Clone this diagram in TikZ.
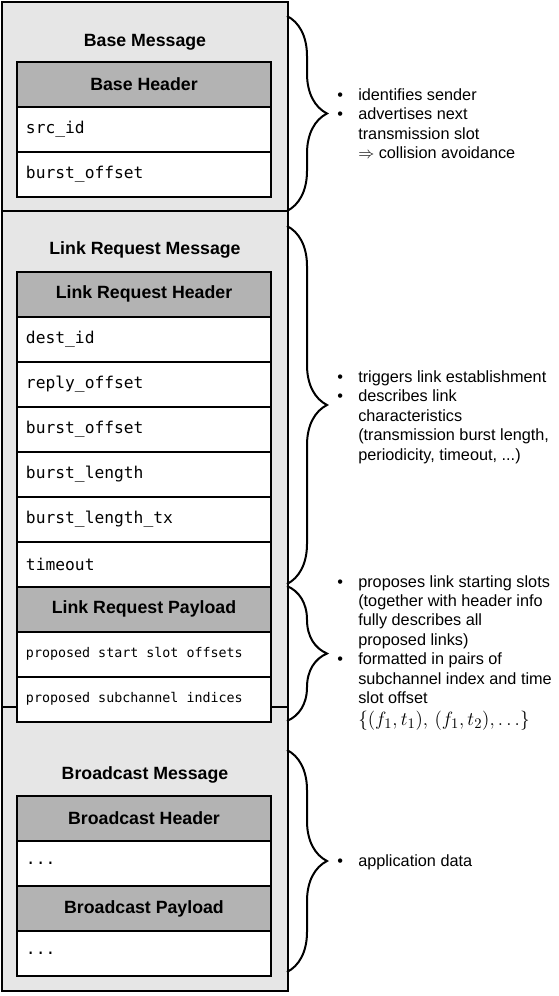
\documentclass[tikz,border=0pt]{standalone}
\usepackage{fontspec}
\setmainfont{Liberation Sans}
\setmonofont{DejaVu Sans Mono}
\usetikzlibrary{positioning,decorations.pathreplacing}

\definecolor{msgfill}{HTML}{E6E6E6}
\definecolor{hdrfill}{HTML}{B3B3B3}

\newcommand{\bul}{\makebox[17.25pt][l]{\hspace{1.5pt}\textbullet}}
\newcommand{\ind}{\hspace*{17.25pt}}
\newcommand{\msp}{\hphantom{x}}% one mono cell
\newcommand{\fieldfont}{\fontsize{12.2}{14}\ttfamily}
\newcommand{\smallfieldfont}{\fontsize{10}{12}\ttfamily}

\tikzset{
  msgbox/.style={draw,line width=1.5pt,fill=msgfill,minimum width=214.5pt,inner sep=0pt,outer sep=0pt},
  msgtitle/.style={font=\fontsize{13.3}{16}\selectfont\bfseries},
  hdr/.style={draw,line width=1.5pt,fill=hdrfill,minimum width=190.5pt,minimum height=33.75pt,
    inner sep=0pt,outer sep=0pt,font=\fontsize{13.3}{16}\selectfont\bfseries},
  field/.style={draw,line width=1.5pt,fill=white,minimum height=33.75pt,text width=177pt,
    inner xsep=6.75pt,inner ysep=0pt,outer sep=0pt,align=left,font=\fieldfont},
  smallfield/.style={field,font=\smallfieldfont},
  curly/.style={decorate,decoration={brace,amplitude=30pt},line width=1.5pt},
  note/.style={anchor=west,align=left,inner sep=0pt,font=\fontsize{12.2}{14.6}\selectfont},
}

\begin{document}
\begin{tikzpicture}[x=0.75pt,y=-0.75pt]
  \useasboundingbox (0,0) rectangle (559,996);

  % message frames
  \node[msgbox,minimum height=156.75pt] (basemsg) at (145,106.5) {};
  \node[msgbox,minimum height=372pt] (lrmsg) at (145,459) {};
  \node[msgbox,minimum height=213pt] (bcmsg) at (145,849) {};
  \node[msgtitle] (basetitle) at (145,42) {Base Message};
  \node[msgtitle] (lrtitle) at (145,250) {Link Request Message};
  \node[msgtitle] (bctitle) at (145,775) {Broadcast Message};

  % base message
  \node[hdr] (basehdr) at (144,84.5) {Base Header};
  \node[field,below=0pt of basehdr] (srcid) {src\_id};
  \node[field,below=0pt of srcid] (baseoff) {burst\_offset};

  % link request message
  \node[hdr] (lrhdr) at (144,294) {Link Request Header};
  \node[field,below=0pt of lrhdr] (destid) {dest\_id};
  \node[field,below=0pt of destid] (replyoff) {reply\_offset};
  \node[field,below=0pt of replyoff] (lroff) {burst\_offset};
  \node[field,below=0pt of lroff] (lrlen) {burst\_length};
  \node[field,below=0pt of lrlen] (lrlentx) {burst\_length\_tx};
  \node[field,below=0pt of lrlentx] (timeout) {timeout};
  \node[hdr,below=0pt of timeout] (lrpay) {Link Request Payload};
  \node[smallfield,below=0pt of lrpay] (startoff) {proposed\msp start\msp slot\msp offsets};
  \node[smallfield,below=0pt of startoff] (subch) {proposed\msp subchannel\msp indices};

  % broadcast message
  \node[hdr] (bchdr) at (144,818.5) {Broadcast Header};
  \node[field,below=0pt of bchdr] (bchdrdata) {...};
  \node[hdr,below=0pt of bchdrdata] (bcpay) {Broadcast Payload};
  \node[field,below=0pt of bcpay] (bcpaydata) {...};

  % braces
  \draw[curly] (287,16) -- (287,211);
  \draw[curly] (287,226) -- (287,584);
  \draw[curly] (287,586) -- (287,721);
  \draw[curly] (287,750) -- (287,972);

  % notes
  \node[note] (basenote) at (335,123.5) {\bul identifies sender\\
    \bul advertises next\\ \ind transmission slot\\ \ind $\Rightarrow$ collision avoidance};
  \node[note] (lrnote) at (335,417) {\bul triggers link establishment\\
    \bul describes link\\ \ind characteristics\\ \ind (transmission burst length,\\
    \ind periodicity, timeout, ...)};
  \node[note] (paynote) at (335,653) {\bul proposes link starting slots\\
    \ind (together with header info\\ \ind fully describes all\\ \ind proposed links)\\
    \bul formatted in pairs of\\ \ind subchannel index and time\\ \ind slot offset\\[2pt]
    \ind {\fontsize{15.7}{18}\selectfont$\{(f_1,t_1),\,(f_1,t_2),\ldots\}$}};
  \node[note] (bcnote) at (335,862) {\bul application data};
\end{tikzpicture}
\end{document}
